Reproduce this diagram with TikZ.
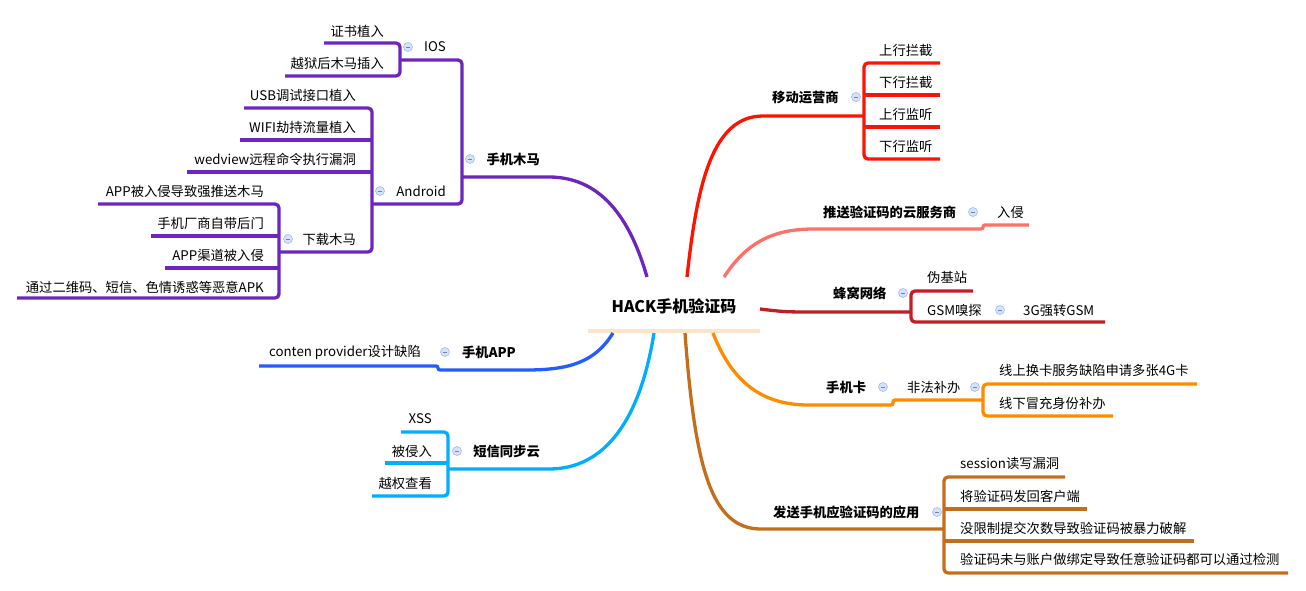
\documentclass[tikz,border=0pt]{standalone}
\usepackage{fontspec}
\newfontfamily\cjk{Noto Sans CJK SC}
\definecolor{trojan}{RGB}{108,38,190}
\definecolor{carrier}{RGB}{255,18,0}
\definecolor{cloudsvc}{RGB}{255,112,104}
\definecolor{cellnet}{RGB}{190,30,36}
\definecolor{simcard}{RGB}{255,140,0}
\definecolor{appsend}{RGB}{196,110,28}
\definecolor{phoneapp}{RGB}{36,92,255}
\definecolor{smscloud}{RGB}{0,174,255}
\definecolor{rootbar}{RGB}{253,228,200}
\definecolor{foldfill}{RGB}{214,226,250}
\definecolor{foldline}{RGB}{160,188,236}
\tikzset{
  leaf/.style={font=\cjk\fontsize{13.3}{15}\selectfont, inner sep=0pt},
  topic/.style={font=\cjk\bfseries\fontsize{13.3}{15}\selectfont, inner sep=0pt},
  rootnode/.style={font=\cjk\bfseries\fontsize{16}{18}\selectfont, inner sep=0pt},
  limb/.style={line width=3.3pt},
  bracket/.style={line width=3.3pt, rounded corners=4pt},
  foldmark/.style={circle, draw=foldline, fill=foldfill, line width=0.6pt,
    minimum size=9pt, inner sep=0pt,
    path picture={\draw[foldline!70!black, line width=0.8pt]
      ([xshift=-2.2pt]path picture bounding box.center) --
      ([xshift=2.2pt]path picture bounding box.center);}}
}
\begin{document}
\begin{tikzpicture}[x=1pt,y=-1pt]
        \useasboundingbox (0,0) rectangle (1306,590);
        % root
        \node[rootnode] (hack) at (674,306) {HACK手机验证码};
        \coordinate (barL) at (588,331);
        \coordinate (barR) at (760,331);
        \draw[rootbar, line width=4pt] (barL) -- (barR);
        \coordinate (rHorse) at (647,277);
        \coordinate (rCarrier) at (687,277);
        \coordinate (rCloud) at (724,277);
        \coordinate (rCell) at (760,309);
        \coordinate (rApp) at (613,333);
        \coordinate (rSms) at (654,333);
        \coordinate (rSend) at (685,333);
        \coordinate (rSim) at (713,333);

        % 手机木马
        \coordinate (horseL) at (549,177);
        \coordinate (horseR) at (462,177);
        \draw[trojan, limb] (rHorse) .. controls (632,225) and (605,177) .. (horseL) -- (horseR);
        \draw[trojan, bracket] (400,60) -- (462,60) -- (462,204) -- (372,204);
        \draw[trojan, bracket] (324,43) -- (400,43) -- (400,76) -- (285,76);
        \draw[trojan, bracket] (244,108) -- (372,108) -- (372,252) -- (279,252);
        \draw[trojan, bracket] (240,140) -- (372,140);
        \draw[trojan, bracket] (187,172) -- (372,172);
        \draw[trojan, bracket] (98,204) -- (279,204) -- (279,298) -- (17,298);
        \draw[trojan, bracket] (151,236) -- (279,236);
        \draw[trojan, bracket] (165,268) -- (279,268);
        \node[topic, anchor=east] (horse) at (540,159) {手机木马};
        \node[foldmark] (fHorse) at (470,159) {};
        \node[leaf, anchor=east] (ios) at (446,47) {IOS};
        \node[foldmark] (fIos) at (408,47) {};
        \node[leaf, anchor=east] (cert) at (384,31) {证书植入};
        \node[leaf, anchor=east] (jail) at (384,63) {越狱后木马插入};
        \node[leaf, anchor=east] (andr) at (446,191) {Android};
        \node[foldmark] (fAndr) at (380,191) {};
        \node[leaf, anchor=east] (usb) at (356,95) {USB调试接口植入};
        \node[leaf, anchor=east] (wifi) at (356,127) {WIFI劫持流量植入};
        \node[leaf, anchor=east] (webv) at (356,159) {wedview远程命令执行漏洞};
        \node[leaf, anchor=east] (dl) at (356,239) {下载木马};
        \node[foldmark] (fDl) at (288,239) {};
        \node[leaf, anchor=east] (push) at (264,191) {APP被入侵导致强推送木马};
        \node[leaf, anchor=east] (oem) at (264,223) {手机厂商自带后门};
        \node[leaf, anchor=east] (chan) at (264,255) {APP渠道被入侵};
        \node[leaf, anchor=east] (apk) at (264,287) {通过二维码、短信、色情诱惑等恶意APK};

        % 手机APP
        \coordinate (appL) at (526,370);
        \draw[phoneapp, limb] (rApp) .. controls (595,362) and (570,370) .. (appL);
        \draw[phoneapp, limb, rounded corners=2pt] (appL) -- (438,370) -- (438,366) -- (259,366);
        \node[topic, anchor=east] (app) at (516,352) {手机APP};
        \node[foldmark] (fApp) at (445,352) {};
        \node[leaf, anchor=east] (cp) at (421,352) {conten provider设计缺陷};

        % 短信同步云
        \coordinate (smsL) at (549,469);
        \draw[smscloud, limb] (rSms) .. controls (640,420) and (605,469) .. (smsL) -- (448,469);
        \draw[smscloud, bracket] (401,432) -- (448,432) -- (448,496) -- (372,496);
        \draw[smscloud, bracket] (385,463) -- (448,463);
        \node[topic, anchor=east] (sms) at (540,451) {短信同步云};
        \node[foldmark] (fSms) at (457,451) {};
        \node[leaf, anchor=east] (xss) at (432,419) {XSS};
        \node[leaf, anchor=east] (hit) at (432,451) {被侵入};
        \node[leaf, anchor=east] (priv) at (432,483) {越权查看};

        % 移动运营商
        \coordinate (carR) at (763,116);
        \draw[carrier, limb] (rCarrier) .. controls (697,185) and (712,116) .. (carR) -- (864,116);
        \draw[carrier, bracket] (940,63) -- (864,63) -- (864,159) -- (940,159);
        \draw[carrier, bracket] (864,95) -- (940,95);
        \draw[carrier, bracket] (864,127) -- (940,127);
        \node[topic, anchor=west] (car) at (772,97) {移动运营商};
        \node[foldmark] (fCar) at (856,97) {};
        \node[leaf, anchor=west] (upCut) at (879,50) {上行拦截};
        \node[leaf, anchor=west] (dnCut) at (879,82) {下行拦截};
        \node[leaf, anchor=west] (upTap) at (879,114) {上行监听};
        \node[leaf, anchor=west] (dnTap) at (879,146) {下行监听};

        % 推送验证码的云服务商
        \coordinate (cloudR) at (813,229);
        \draw[cloudsvc, limb] (rCloud) .. controls (745,245) and (770,229) .. (cloudR);
        \draw[cloudsvc, limb, rounded corners=2pt] (cloudR) -- (983,229) -- (983,225) -- (1029,225);
        \node[topic, anchor=west] (cloud) at (823,212) {推送验证码的云服务商};
        \node[foldmark] (fCloud) at (973,212) {};
        \node[leaf, anchor=west] (intr) at (997,212) {入侵};

        % 蜂窝网络
        \coordinate (cellR) at (820,312);
        \draw[cellnet, limb] (rCell) .. controls (785,312) .. (cellR) -- (911,312);
        \draw[cellnet, bracket] (973,291) -- (911,291) -- (911,322) -- (1105,322);
        \node[topic, anchor=west] (cell) at (833,293) {蜂窝网络};
        \node[foldmark] (fCell) at (903,293) {};
        \node[leaf, anchor=west] (fake) at (927,277) {伪基站};
        \node[leaf, anchor=west] (gsm) at (927,310) {GSM嗅探};
        \node[foldmark] (fGsm) at (1000,310) {};
        \node[leaf, anchor=west] (g3) at (1023,310) {3G强转GSM};

        % 手机卡
        \coordinate (simR) at (809,405);
        \draw[simcard, limb] (rSim) .. controls (735,390) and (770,405) .. (simR);
        \draw[simcard, limb, rounded corners=2pt] (simR) -- (893,405) -- (893,400) -- (983,400);
        \draw[simcard, bracket] (1197,384) -- (983,384) -- (983,416) -- (1113,416);
        \node[topic, anchor=west] (sim) at (826,387) {手机卡};
        \node[foldmark] (fSim) at (883,387) {};
        \node[leaf, anchor=west] (illeg) at (907,387) {非法补办};
        \node[foldmark] (fIlleg) at (975,387) {};
        \node[leaf, anchor=west] (online) at (999,370) {线上换卡服务缺陷申请多张4G卡};
        \node[leaf, anchor=west] (offline) at (999,403) {线下冒充身份补办};

        % 发送手机应验证码的应用
        \coordinate (sendR) at (761,529);
        \draw[appsend, limb] (rSend) .. controls (695,470) and (712,529) .. (sendR) -- (944,529);
        \draw[appsend, bracket] (1065,477) -- (944,477) -- (944,573) -- (1288,573);
        \draw[appsend, bracket] (944,509) -- (1087,509);
        \draw[appsend, bracket] (944,541) -- (1194,541);
        \node[topic, anchor=west] (send) at (773,512) {发送手机应验证码的应用};
        \node[foldmark] (fSend) at (937,512) {};
        \node[leaf, anchor=west] (sess) at (960,463) {session读写漏洞};
        \node[leaf, anchor=west] (back) at (960,496) {将验证码发回客户端};
        \node[leaf, anchor=west] (brute) at (960,528) {没限制提交次数导致验证码被暴力破解};
        \node[leaf, anchor=west] (bind) at (960,559) {验证码未与账户做绑定导致任意验证码都可以通过检测};
\end{tikzpicture}
\end{document}
